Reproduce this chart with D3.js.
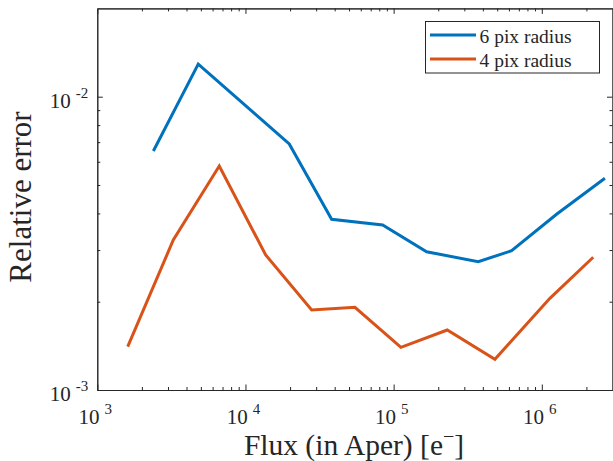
<!DOCTYPE html>
<html>
<head>
<meta charset="utf-8">
<script src="https://cdn.jsdelivr.net/npm/d3@7/dist/d3.min.js"></script>
<style>
  html, body { margin: 0; padding: 0; background: #fff; }
  svg { display: block; }
</style>
</head>
<body>
<svg id="chart" width="613" height="461" font-family="'Liberation Serif', 'Times New Roman', Times, serif"></svg>
<script>
// Flux values (electrons) and relative photometric error for two aperture radii
const fluxR6 = [2390, 4800, 19750, 38150, 84300, 167000, 372500, 625600, 1264000, 2666000];
const errR6  = [0.00653, 0.01292, 0.00690, 0.00382, 0.00365, 0.00296, 0.002737, 0.002985, 0.00398, 0.00527];

const fluxR4 = [1604, 3257, 6656, 13690, 27970, 54820, 112000, 230000, 482500, 1134000, 2223000];
const errR4  = [0.001405, 0.003246, 0.0058, 0.002886, 0.001874, 0.001914, 0.001398, 0.001602, 0.001273, 0.002054, 0.002835];

const seriesNames = ["6 pix radius", "4 pix radius"];
const seriesColors = ["#0072BD", "#D95319"];

const xMajorExp = [3, 4, 5, 6];
const yMajorExp = [-3, -2];
const xDomain = [1e3, 3e6];
const yDomain = [1e-3, 2e-2];

const FONT = "'Liberation Serif', 'Times New Roman', Times, serif";
const textColor = "#262626";
const axisColor = "#262626";

const svg = d3.select("#chart");
const plotL = 97.3, plotR = 612.5, plotT = 8.4, plotB = 390;

const x = d3.scaleLog().domain(xDomain).range([plotL, plotR]);
const y = d3.scaleLog().domain(yDomain).range([plotB, plotT]);

function minorTicks(domain) {
  const out = [];
  const lo = Math.floor(Math.log10(domain[0])), hi = Math.ceil(Math.log10(domain[1]));
  for (let e = lo; e < hi; e++) {
    for (let k = 2; k <= 9; k++) {
      const v = k * Math.pow(10, e);
      if (v > domain[0] && v < domain[1]) out.push(v);
    }
  }
  return out;
}
const xMajor = xMajorExp.map(e => Math.pow(10, e));
const yMajor = yMajorExp.map(e => Math.pow(10, e));
const xMinor = minorTicks(xDomain);
const yMinor = minorTicks(yDomain);

function styleAxis(g) {
  g.selectAll("path.domain").attr("stroke", axisColor).attr("stroke-width", 1);
  g.selectAll(".tick line").attr("stroke", axisColor).attr("stroke-width", 1);
  g.selectAll(".tick text").remove();
}

// Box axes with inward ticks on all four sides
const axes = [
  { mk: d3.axisBottom, sc: x, t: `translate(0,${plotB})` },
  { mk: d3.axisTop,    sc: x, t: `translate(0,${plotT})` },
  { mk: d3.axisLeft,   sc: y, t: `translate(${plotL},0)` },
  { mk: d3.axisRight,  sc: y, t: `translate(${plotR},0)` }
];
axes.forEach(a => {
  const major = a.sc === x ? xMajor : yMajor;
  const minor = a.sc === x ? xMinor : yMinor;
  svg.append("g").attr("transform", a.t)
    .call(a.mk(a.sc).tickValues(minor).tickSizeInner(-3).tickSizeOuter(0).tickFormat(""))
    .call(styleAxis);
  svg.append("g").attr("transform", a.t)
    .call(a.mk(a.sc).tickValues(major).tickSizeInner(-5.5).tickSizeOuter(0).tickFormat(""))
    .call(styleAxis);
});

function powerLabel(sel) {
  sel.attr("font-family", FONT).attr("fill", textColor).attr("font-size", 21)
    .each(function (e) {
      const t = d3.select(this);
      t.append("tspan").text("10");
      t.append("tspan").attr("font-size", 15).attr("dx", 5).attr("dy", -10).text(String(e));
    });
}

// Tick labels in power-of-ten notation
svg.append("g").selectAll("text").data(xMajorExp).join("text")
  .attr("x", e => x(Math.pow(10, e)) - 2)
  .attr("y", plotB + 33.5)
  .attr("text-anchor", "middle")
  .call(powerLabel);

svg.append("g").selectAll("text").data(yMajorExp).join("text")
  .attr("x", plotL - 9)
  .attr("y", e => y(Math.pow(10, e)) + 11)
  .attr("text-anchor", "end")
  .call(powerLabel);

// Axis titles
const xt = svg.append("text")
  .attr("x", 354).attr("y", 454.5)
  .attr("text-anchor", "middle")
  .attr("font-family", FONT).attr("fill", textColor)
  .attr("font-size", 29.5);
xt.append("tspan").text("Flux (in Aper) [e");
xt.append("tspan").attr("font-size", 20).attr("dy", -12).text("\u2212");
xt.append("tspan").attr("dy", 12).text("]");

svg.append("text")
  .attr("transform", "translate(31,197) rotate(-90)")
  .attr("text-anchor", "middle")
  .attr("font-family", FONT).attr("fill", textColor)
  .attr("font-size", 31)
  .text("Relative error");

// Data lines
const line = d3.line().x(d => x(d[0])).y(d => y(d[1]));
const series = [
  { pts: d3.zip(fluxR6, errR6), color: seriesColors[0] },
  { pts: d3.zip(fluxR4, errR4), color: seriesColors[1] }
];
svg.append("g").selectAll("path").data(series).join("path")
  .attr("d", s => line(s.pts))
  .attr("fill", "none")
  .attr("stroke", s => s.color)
  .attr("stroke-width", 3)
  .attr("stroke-linejoin", "miter");

// Legend
const lg = svg.append("g");
lg.append("rect")
  .attr("x", 425.5).attr("y", 21.5).attr("width", 174).attr("height", 51.5)
  .attr("fill", "#fff").attr("stroke", axisColor).attr("stroke-width", 1);
seriesNames.forEach((name, i) => {
  const ly = 35 + i * 24;
  lg.append("line")
    .attr("x1", 430).attr("x2", 476).attr("y1", ly).attr("y2", ly)
    .attr("stroke", seriesColors[i]).attr("stroke-width", 3);
  lg.append("text")
    .attr("x", 479.5).attr("y", ly + 8)
    .attr("font-family", FONT).attr("fill", textColor)
    .attr("font-size", 19.5)
    .text(name);
});
</script>
</body>
</html>
